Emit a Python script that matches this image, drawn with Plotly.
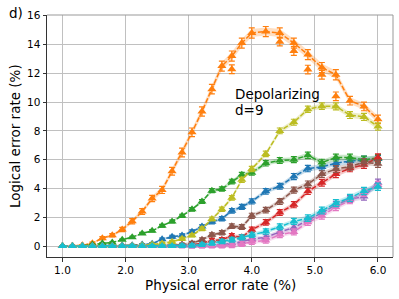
import plotly.graph_objects as go

# physical error rate (%) sample points
physical_rate = [1.000, 1.158, 1.316, 1.474, 1.632, 1.789, 1.947, 2.105, 2.263, 2.421,
                 2.579, 2.737, 2.895, 3.053, 3.211, 3.368, 3.526, 3.684, 3.842, 4.000,
                 4.222, 4.444, 4.667, 4.889, 5.111, 5.333, 5.556, 5.778, 6.000]

blue_rate = [0.0, 0.0, 0.0, 0.01, 0.02, 0.03, 0.05, 0.06, 0.10, 0.16,
             0.47, 0.65, 0.74, 1.0, 1.35, 1.68, 1.9, 2.45, 2.72, 3.1,
             3.8, 4.15, 4.83, 5.38, 5.5, 5.76, 5.9, 6.0, 6.05]
orange_rate = [0.0, 0.02, 0.05, 0.2, 0.55, 0.75, 1.15, 1.72, 2.4, 3.3,
               3.9, 5.2, 6.5, 7.9, 9.35, 10.9, 12.5, 13.2, 14.1, 14.8,
               14.9, 14.8, 14.1, 13.3, 12.4, 11.9, 10.1, 9.7, 8.8]
green_rate = [0.0, 0.0, 0.02, 0.1, 0.2, 0.25, 0.44, 0.62, 0.88, 1.06,
              1.41, 1.71, 2.1, 2.55, 3.1, 3.85, 3.96, 4.48, 4.95, 5.1,
              5.75, 5.95, 6.0, 6.3, 5.8, 6.15, 6.15, 6.0, 6.1]
red_rate = [0.0, 0.0, 0.0, 0.0, 0.0, 0.0, 0.0, 0.0, 0.0, 0.01,
            0.02, 0.03, 0.05, 0.08, 0.2, 0.39, 0.44, 0.71, 0.62, 1.13,
            1.64, 2.33, 2.87, 3.8, 4.4, 5.0, 5.4, 5.64, 6.15]
purple_rate = [0.0, 0.0, 0.0, 0.0, 0.0, 0.0, 0.0, 0.0, 0.0, 0.0,
               0.0, 0.0, 0.0, 0.0, 0.02, 0.05, 0.1, 0.2, 0.3, 0.49,
               0.6, 0.98, 1.28, 1.8, 2.3, 2.87, 3.26, 3.44, 4.4]
brown_rate = [0.0, 0.0, 0.0, 0.0, 0.0, 0.0, 0.0, 0.0, 0.0, 0.02,
              0.03, 0.05, 0.1, 0.2, 0.44, 0.78, 0.92, 1.38, 1.32, 2.1,
              2.5, 3.1, 3.88, 4.3, 5.0, 5.35, 5.52, 5.82, 5.72]
pink_rate = [0.0, 0.0, 0.0, 0.0, 0.0, 0.0, 0.0, 0.0, 0.0, 0.0,
             0.0, 0.0, 0.0, 0.0, 0.0, 0.02, 0.03, 0.05, 0.15, 0.3,
             0.39, 0.78, 0.98, 1.65, 2.1, 2.7, 3.18, 3.7, 4.25]
olive_rate = [0.0, 0.0, 0.0, 0.0, 0.0, 0.0, 0.0, 0.02, 0.05, 0.1,
              0.18, 0.3, 0.5, 0.75, 1.2, 1.88, 2.55, 3.35, 4.6, 5.35,
              6.4, 8.0, 8.6, 9.5, 9.72, 9.7, 9.1, 8.97, 8.3]
cyan_rate = [0.0, 0.0, 0.0, 0.0, 0.0, 0.0, 0.0, 0.0, 0.0, 0.0,
             0.0, 0.01, 0.02, 0.04, 0.1, 0.2, 0.32, 0.44, 0.6, 0.78,
             1.01, 1.34, 1.71, 1.94, 2.47, 2.98, 3.35, 3.82, 4.12]

# error bar half-widths (%)
low_err = [0.03, 0.03, 0.03, 0.04, 0.04, 0.05, 0.05, 0.06, 0.07, 0.08,
           0.09, 0.1, 0.11, 0.12, 0.13, 0.14, 0.15, 0.16, 0.17, 0.18,
           0.19, 0.2, 0.21, 0.22, 0.23, 0.24, 0.24, 0.25, 0.25]
orange_err = [0.03, 0.04, 0.05, 0.07, 0.1, 0.12, 0.15, 0.18, 0.2, 0.22,
              0.25, 0.27, 0.3, 0.3, 0.32, 0.33, 0.35, 0.35, 0.35, 0.35,
              0.35, 0.35, 0.35, 0.35, 0.35, 0.35, 0.3, 0.3, 0.3]

# additional orange samples
orange_extra_x = [3.684, 4.444, 4.667, 4.889, 5.111, 5.333]
orange_extra_y = [12.28, 14.2, 13.55, 12.26, 11.9, 10.4]
orange_extra_err = [0.3, 0.3, 0.3, 0.3, 0.3, 0.3]

x_ticks = [1, 2, 3, 4, 5, 6]
x_tick_labels = ["1.0", "2.0", "3.0", "4.0", "5.0", "6.0"]
y_ticks = [0, 2, 4, 6, 8, 10, 12, 14, 16]

series = [
    (blue_rate, low_err, "#1f77b4", "rgba(31,119,180,0.25)"),
    (orange_rate, orange_err, "#ff7f0e", "rgba(255,127,14,0.25)"),
    (green_rate, low_err, "#2ca02c", "rgba(44,160,44,0.25)"),
    (red_rate, low_err, "#d62728", "rgba(214,39,40,0.25)"),
    (purple_rate, low_err, "#9467bd", "rgba(148,103,189,0.25)"),
    (brown_rate, low_err, "#8c564b", "rgba(140,86,75,0.25)"),
    (pink_rate, low_err, "#e377c2", "rgba(227,119,194,0.25)"),
    (olive_rate, low_err, "#bcbd22", "rgba(188,189,34,0.25)"),
    (cyan_rate, low_err, "#17becf", "rgba(23,190,207,0.25)"),
]

fig = go.Figure()

for vals, err, col, band in series:
    upper = [v + 0.8 * e for v, e in zip(vals, err)]
    lower = [v - 0.8 * e for v, e in zip(vals, err)]
    fig.add_trace(go.Scatter(
        x=physical_rate + physical_rate[::-1], y=upper + lower[::-1],
        fill="toself", fillcolor=band, line=dict(width=0),
        mode="lines", hoverinfo="skip", showlegend=False))
    fig.add_trace(go.Scatter(
        x=physical_rate, y=vals, mode="lines+markers",
        line=dict(color=col, width=1.5, dash="5px,2px"),
        marker=dict(symbol="triangle-up", size=8, color=col),
        error_y=dict(type="data", array=err, color=col, thickness=1.2, width=3),
        showlegend=False))

fig.add_trace(go.Scatter(
    x=orange_extra_x, y=orange_extra_y, mode="markers",
    marker=dict(symbol="triangle-up", size=8, color="#ff7f0e"),
    error_y=dict(type="data", array=orange_extra_err, color="#ff7f0e", thickness=1.2, width=3),
    showlegend=False))

font = "DejaVu Sans"
fig.update_layout(
    width=399, height=299,
    margin=dict(l=47, r=6, t=15, b=42, autoexpand=False),
    paper_bgcolor="white", plot_bgcolor="white",
    font=dict(family=font, color="black", size=10),
    xaxis=dict(range=[0.755, 6.238], tickvals=x_ticks, ticktext=x_tick_labels,
               automargin=False,
               showgrid=True, gridcolor="#c0c0c0", gridwidth=1, zeroline=False,
               showline=True, linecolor="#333333", linewidth=1,
               ticks="outside", ticklen=3.5, tickcolor="#333333",
               tickfont=dict(size=10.5)),
    yaxis=dict(range=[-0.76, 16.05], tickvals=y_ticks,
               automargin=False,
               showgrid=True, gridcolor="#c0c0c0", gridwidth=1, zeroline=False,
               showline=True, linecolor="#333333", linewidth=1,
               ticks="outside", ticklen=3.5, tickcolor="#333333",
               tickfont=dict(size=10.5)),
    shapes=[
        dict(type="line", xref="paper", yref="paper", x0=0, x1=1, y0=1, y1=1,
             line=dict(color="#999999", width=1)),
        dict(type="line", xref="paper", yref="paper", x0=1, x1=1, y0=0, y1=1,
             line=dict(color="#999999", width=1)),
    ],
    annotations=[
        dict(text="Physical error rate (%)", x=0.5, y=-0.114, xref="paper", yref="paper",
             xanchor="center", yanchor="middle", showarrow=False,
             font=dict(size=13.5, family=font)),
        dict(text="Logical error rate (%)", x=-0.0925, y=0.5, xref="paper", yref="paper",
             xanchor="center", yanchor="middle", showarrow=False, textangle=-90,
             font=dict(size=13.5, family=font)),
        dict(text="Depolarizing", x=3.70, y=10.57, xref="x", yref="y",
             xanchor="left", yanchor="middle", showarrow=False,
             font=dict(size=13.5, family=font)),
        dict(text="d=9", x=3.70, y=9.46, xref="x", yref="y",
             xanchor="left", yanchor="middle", showarrow=False,
             font=dict(size=13.5, family=font)),
        dict(text="d)", x=-0.116, y=1.008, xref="paper", yref="paper",
             xanchor="left", yanchor="middle", showarrow=False,
             font=dict(size=13.5, family=font)),
    ],
)

fig.write_html("out.html", config={"displayModeBar": False},
               post_script="document.body.style.margin='0px';document.body.style.overflow='hidden';")
